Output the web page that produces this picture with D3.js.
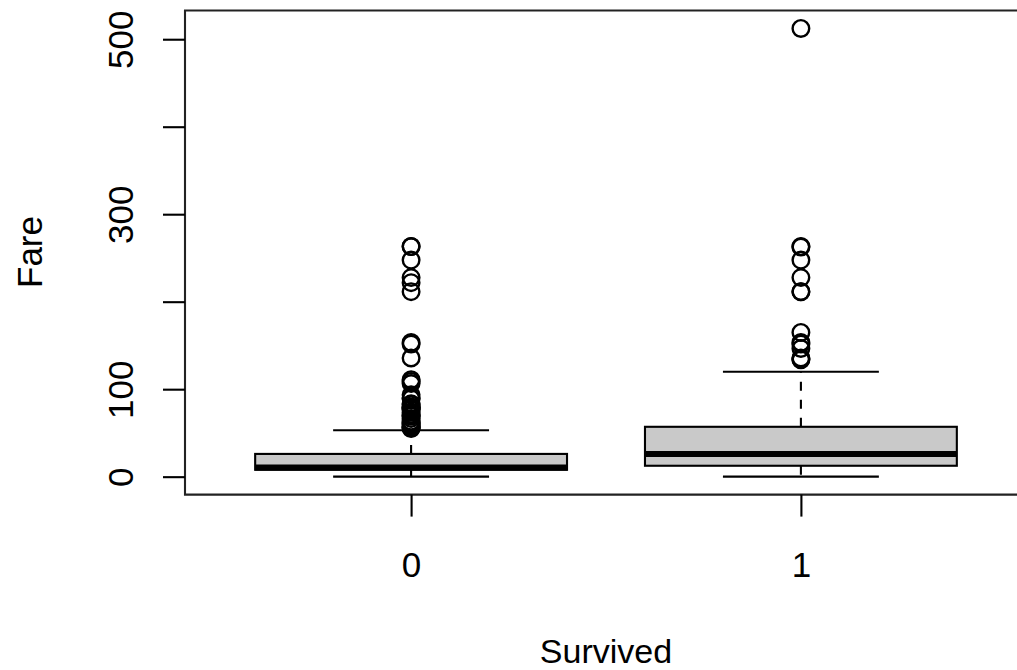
<!DOCTYPE html>
<html>
<head>
<meta charset="utf-8">
<script src="https://cdn.jsdelivr.net/npm/d3@7"></script>
<style>
  html, body { margin: 0; padding: 0; background: #fff; }
  svg { display: block; }
  text { font-family: "Liberation Sans", Arial, Helvetica, sans-serif; fill: #000; }
</style>
</head>
<body>
<svg id="chart" width="1017" height="670"></svg>
<script>
// ---- data ----
const categories = ["0", "1"];
const lowerWhisker = [0, 0];
const q1 = [7.8542, 12.475];
const median = [10.5, 26.0];
const q3 = [26.0, 57.0];
const upperWhisker = [53.1, 120.0];
const outliers0 = [263, 263, 247.5208, 227.525, 221.7792, 211.5, 153.4625, 151.55, 135.6333,
  110.8833, 108.9, 106.425, 93.5, 90, 89.1042, 83.475, 82.1708, 79.65, 79.2, 78.85,
  77.2875, 76.7292, 73.5, 71, 69.55, 69.3, 66.6, 63.3583, 61.3792, 61.175, 59.4, 57,
  56.4958, 55.9, 55];
const outliers1 = [512.3292, 263, 262.375, 247.5208, 227.525, 211.3375, 211.5,
  164.8667, 153.4625, 151.55, 146.5208, 135.6333, 134.5, 133.65];
const outliers = [outliers0, outliers1];
const yTicks = [0, 100, 200, 300, 400, 500];
const yTickLabels = ["0", "100", "", "300", "", "500"];
const xTitle = "Survived";
const yTitle = "Fare";

// ---- layout ----
const svg = d3.select("#chart");
const plot = { left: 185, right: 1027, top: 10.5, bottom: 494.6 };

const allVals = [].concat(lowerWhisker, upperWhisker, ...outliers);
const dMin = d3.min(allVals), dMax = d3.max(allVals);
const pad = 0.04 * (dMax - dMin);
const y = d3.scaleLinear().domain([dMin - pad, dMax + pad]).range([plot.bottom, plot.top]);
const x = d3.scaleLinear().domain([0.42, 2.58]).range([plot.left, plot.right]);

const lw = 2.1;
const g = svg.append("g");

// boxes
categories.forEach((c, i) => {
  const cx = x(i + 1);
  const hw = x(i + 1.4) - cx;
  const cw = x(i + 1.2) - cx;
  // whiskers (dashed)
  g.append("line").attr("x1", cx).attr("x2", cx)
    .attr("y1", y(q3[i])).attr("y2", y(upperWhisker[i]))
    .attr("stroke", "#000").attr("stroke-width", lw).attr("stroke-dasharray", "9,9");
  g.append("line").attr("x1", cx).attr("x2", cx)
    .attr("y1", y(q1[i])).attr("y2", y(lowerWhisker[i]))
    .attr("stroke", "#000").attr("stroke-width", lw).attr("stroke-dasharray", "9,9");
  // caps
  g.append("line").attr("x1", cx - cw).attr("x2", cx + cw)
    .attr("y1", y(upperWhisker[i])).attr("y2", y(upperWhisker[i]))
    .attr("stroke", "#000").attr("stroke-width", lw);
  g.append("line").attr("x1", cx - cw).attr("x2", cx + cw)
    .attr("y1", y(lowerWhisker[i])).attr("y2", y(lowerWhisker[i]))
    .attr("stroke", "#000").attr("stroke-width", lw);
  // box
  g.append("rect").attr("x", cx - hw).attr("width", 2 * hw)
    .attr("y", y(q3[i])).attr("height", y(q1[i]) - y(q3[i]))
    .attr("fill", "#c9c9c9").attr("stroke", "#000").attr("stroke-width", lw);
  // median
  g.append("line").attr("x1", cx - hw).attr("x2", cx + hw)
    .attr("y1", y(median[i])).attr("y2", y(median[i]))
    .attr("stroke", "#000").attr("stroke-width", 6);
  // outliers
  g.selectAll(null).data(outliers[i]).enter().append("circle")
    .attr("cx", cx).attr("cy", d => y(d)).attr("r", 8.3)
    .attr("fill", "none").attr("stroke", "#000").attr("stroke-width", 2.4);
});

// frame
svg.append("path")
  .attr("d", `M${plot.right + 10},${plot.top}H${plot.left}V${plot.bottom}H${plot.right + 10}`)
  .attr("fill", "none").attr("stroke", "#222").attr("stroke-width", lw);

// y axis
const yAxis = d3.axisLeft(y).tickValues(yTicks).tickSize(22)
  .tickFormat((d, i) => yTickLabels[i]);
const ya = svg.append("g").attr("transform", `translate(${plot.left},0)`).call(yAxis);
ya.select(".domain").remove();
ya.selectAll(".tick line").attr("stroke", "#000").attr("stroke-width", lw);
ya.selectAll(".tick text")
  .attr("font-size", 35).attr("font-family", "Liberation Sans, Arial, sans-serif")
  .attr("fill", "#000")
  .attr("text-anchor", "middle").attr("dy", null).attr("x", null)
  .attr("transform", "translate(-52,0) rotate(-90)");

// x axis
const xAxis = d3.axisBottom(x).tickValues([1, 2]).tickSize(22)
  .tickFormat((d, i) => categories[i]);
const xa = svg.append("g").attr("transform", `translate(0,${plot.bottom})`).call(xAxis);
xa.select(".domain").remove();
xa.selectAll(".tick line").attr("stroke", "#000").attr("stroke-width", lw);
xa.selectAll(".tick text")
  .attr("font-size", 35).attr("font-family", "Liberation Sans, Arial, sans-serif")
  .attr("fill", "#000").attr("y", 82).attr("dy", null);

// titles
svg.append("text").attr("x", 606).attr("y", 663)
  .attr("text-anchor", "middle").attr("font-size", 34).text(xTitle);
svg.append("text").attr("transform", "translate(42,252) rotate(-90)")
  .attr("text-anchor", "middle").attr("font-size", 35).text(yTitle);
</script>
</body>
</html>
